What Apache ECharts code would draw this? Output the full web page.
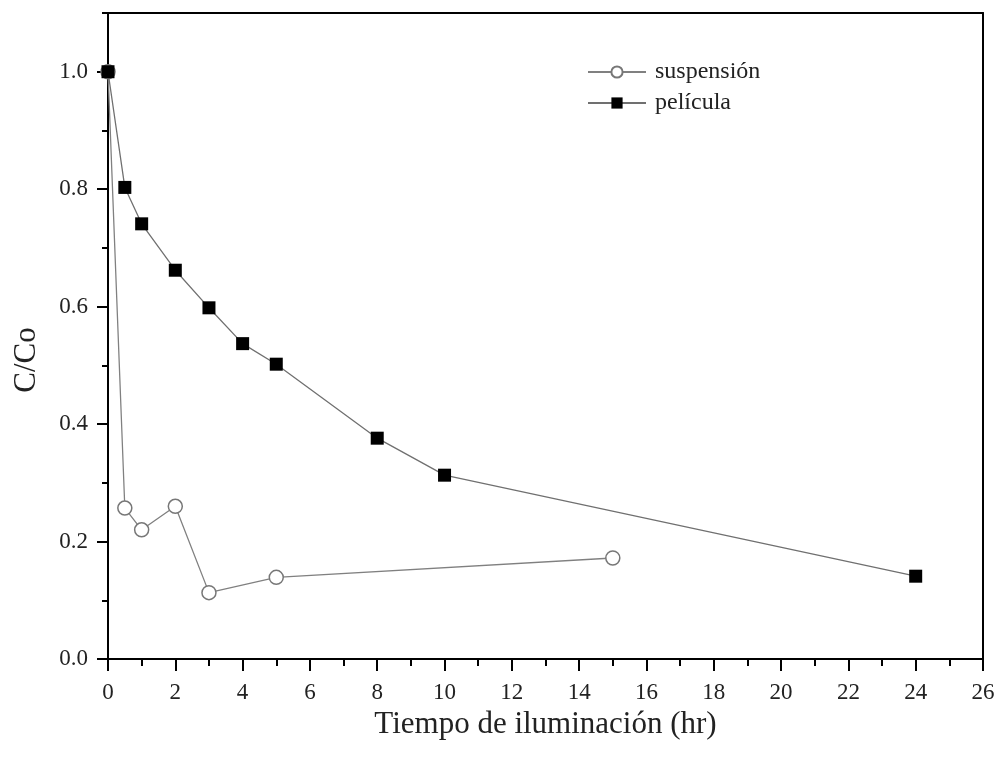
<!DOCTYPE html>
<html><head><meta charset="utf-8">
<script src="https://cdn.jsdelivr.net/npm/echarts@6/dist/echarts.min.js"></script>
<style>html,body{margin:0;padding:0;background:#fff}#c{width:1001px;height:759px}</style>
</head><body><div id="c"></div>
<script>
const suspX = [0, 0.5, 1, 2, 3, 5, 15];
const suspY = [1.0, 0.257, 0.22, 0.26, 0.113, 0.139, 0.172];
const peliX = [0, 0.5, 1, 2, 3, 4, 5, 8, 10, 24];
const peliY = [1.0, 0.803, 0.741, 0.662, 0.598, 0.537, 0.502, 0.376, 0.313, 0.141];
const yMajor = [0, 0.2, 0.4, 0.6, 0.8, 1.0];
const xTitle = 'Tiempo de iluminación (hr)';
const yTitle = 'C/Co';
const names = ['suspensión', 'película'];

const font = 'Liberation Serif, Times New Roman, serif';
const txt = '#222';
const ax = '#000';
const chart = echarts.init(document.getElementById('c'));
chart.setOption({
  animation: false,
  grid: {left: 108, right: 18, top: 13, bottom: 100},
  legend: {
    left: 582, top: 55, orient: 'vertical', itemGap: 7,
    itemWidth: 58, itemHeight: 14,
    textStyle: {fontFamily: font, fontSize: 24, color: txt, padding: [0,0,0,4]},
    data: names
  },
  xAxis: [{
    type: 'value', min: 0, max: 26, interval: 2,
    name: xTitle, nameLocation: 'middle', nameGap: 39,
    nameTextStyle: {fontFamily: font, fontSize: 31, color: txt},
    axisLine: {show: true, onZero: false, lineStyle: {color: ax, width: 2}},
    axisTick: {show: true, inside: false, length: 12, lineStyle: {color: ax, width: 2}},
    minorTick: {show: true, splitNumber: 2, length: 7, lineStyle: {color: ax, width: 2}},
    splitLine: {show: false},
    axisLabel: {fontFamily: font, fontSize: 23, color: txt, margin: 22}
  }, {
    type: 'value', min: 0, max: 26, position: 'top',
    axisLine: {show: true, onZero: false, lineStyle: {color: ax, width: 2}},
    axisTick: {show: false}, axisLabel: {show: false}, splitLine: {show: false}
  }],
  yAxis: [{
    type: 'value', min: 0, max: 1.1, interval: 0.1,
    position: 'left',
    axisLine: {show: true, onZero: false, lineStyle: {color: ax, width: 2}},
    axisTick: {show: true, inside: false, length: 6, lineStyle: {color: ax, width: 2}},
    axisLabel: {show: false}, splitLine: {show: false}
  }, {
    type: 'value', min: 0, max: 1.1, position: 'left',
    name: yTitle, nameLocation: 'middle', nameGap: 66, nameRotate: 90,
    nameTextStyle: {fontFamily: font, fontSize: 31, color: txt, padding: [0, 48, 0, 0]},
    axisLine: {show: false},
    axisTick: {show: true, inside: false, length: 11, customValues: yMajor, lineStyle: {color: ax, width: 2}},
    splitLine: {show: false},
    axisLabel: {fontFamily: font, fontSize: 23, color: txt, margin: 20, customValues: yMajor,
      formatter: v => v.toFixed(1)}
  }, {
    type: 'value', min: 0, max: 1.1, position: 'right',
    axisLine: {show: true, onZero: false, lineStyle: {color: ax, width: 2}},
    axisTick: {show: false}, axisLabel: {show: false}, splitLine: {show: false}
  }],
  series: [{
    name: names[0], type: 'line',
    data: suspX.map((x, i) => [x, suspY[i]]),
    symbol: 'circle', symbolSize: 14,
    lineStyle: {color: '#808080', width: 1.3},
    itemStyle: {color: '#fff', borderColor: '#777', borderWidth: 1.5},
    z: 3
  }, {
    name: names[1], type: 'line',
    data: peliX.map((x, i) => [x, peliY[i]]),
    symbol: 'rect', symbolSize: 13,
    lineStyle: {color: '#707070', width: 1.3},
    itemStyle: {color: '#000', borderColor: '#000', borderWidth: 0},
    z: 4
  }]
});
</script></body></html>
